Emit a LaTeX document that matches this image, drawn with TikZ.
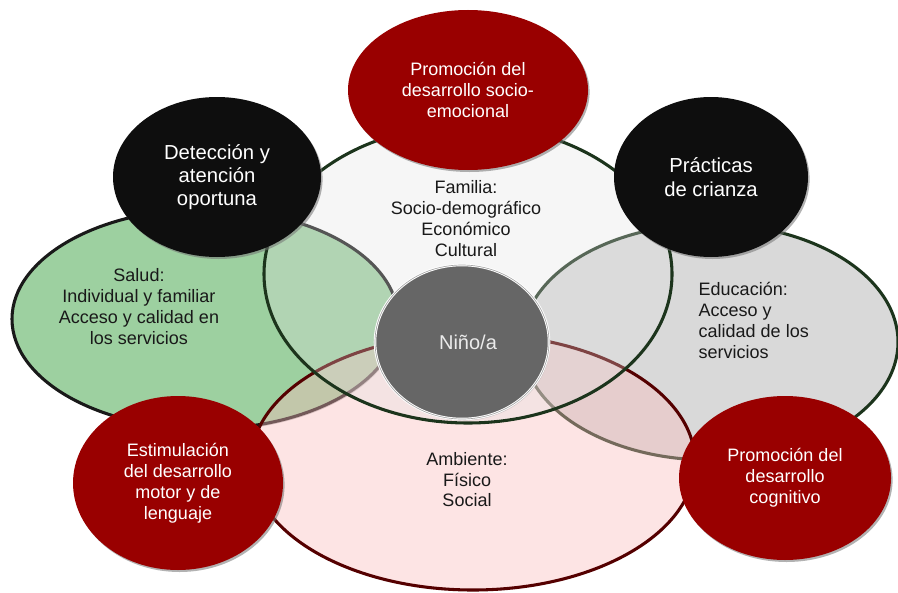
\documentclass[tikz,border=0pt]{standalone}
\usepackage{fontspec}
\setmainfont{Liberation Sans}
\usetikzlibrary{shapes.geometric,shadows}

\definecolor{saludfill}{RGB}{157,208,160}
\definecolor{familiafill}{RGB}{224,224,224}
\definecolor{educfill}{RGB}{217,217,217}
\definecolor{ambfill}{RGB}{250,187,187}
\definecolor{rimgreen}{RGB}{28,52,28}
\definecolor{rimred}{RGB}{85,0,0}
\definecolor{bubred}{RGB}{153,0,0}
\definecolor{bubblack}{RGB}{14,14,14}
\definecolor{ninofill}{RGB}{102,102,102}

\tikzset{
  area/.style={ellipse, inner sep=0pt, line width=2.3pt},
  bubble/.style={ellipse, inner sep=0pt, text=white, align=center,
    font=\fontsize{13.5}{15.75}\selectfont,
    drop shadow={shadow xshift=1.2pt, shadow yshift=-1.5pt, fill=black!55, opacity=.55}},
  redbubble/.style={bubble, fill=bubred},
  blackbubble/.style={bubble, fill=bubblack, font=\fontsize{15.2}{17.5}\selectfont},
  areatext/.style={align=center, text=black!90, font=\fontsize{13.5}{15.75}\selectfont}
}

\begin{document}
\begin{tikzpicture}[x=0.75pt, y=-0.75pt]
\useasboundingbox (0,0) rectangle (898,592);

% Outer areas
\node[area, fill=saludfill, draw=black!90,
  drop shadow={shadow xshift=1pt, shadow yshift=-1.5pt, fill=black!50, opacity=.5},
  minimum width=289.5pt, minimum height=165pt] (Salud) at (205,319) {};
\node[area, fill=educfill, draw=rimgreen,
  minimum width=282pt, minimum height=177pt] (Educacion) at (710,342) {};
\node[area, fill=ambfill, fill opacity=.4, draw=rimred,
  minimum width=333pt, minimum height=192pt] (Ambiente) at (473,462) {};
\node[area, fill=familiafill, fill opacity=.3, draw=rimgreen,
  minimum width=306pt, minimum height=223.5pt] (Familia) at (468,274) {};

% Area texts
\node[areatext] (Familia-txt) at (466,219)
  {Familia:\\Socio-demográfico\\Económico\\Cultural};
\node[areatext] (Salud-txt) at (139,307)
  {Salud:\\Individual y familiar\\Acceso y calidad en\\los servicios};
\node[areatext, align=left, anchor=west] (Educacion-txt) at (694,320)
  {Educación:\\ Acceso y\\ calidad de los\\ servicios};
\node[areatext, font=\fontsize{13.5}{15.4}\selectfont] (Ambiente-txt) at (467,480)
  {Ambiente:\\Físico\\Social};

% Center
\node[ellipse, inner sep=0pt, fill=ninofill, draw=white, line width=.7pt,
  double=gray!70, double distance=.5pt, text=white!92!black,
  font=\fontsize{15}{18}\selectfont,
  drop shadow={shadow xshift=.8pt, shadow yshift=-1.2pt, fill=black!40, opacity=.4},
  minimum width=130.5pt, minimum height=115.5pt] (Nino) at (462,342) {\hspace*{9pt}Niño/a};

% Bubbles
\node[redbubble, minimum width=180pt, minimum height=120pt] (Socioemocional) at (468,90)
  {Promoción del\\desarrollo socio-\\emocional};
\node[blackbubble, minimum width=156pt, minimum height=120pt] (Deteccion) at (217,177)
  {Detección y\\atención\\oportuna};
\node[blackbubble, minimum width=145.5pt, minimum height=120pt] (Practicas) at (711,177)
  {Prácticas\\de crianza};
\node[redbubble, minimum width=157.5pt, minimum height=130.5pt] (Estimulacion) at (178,483)
  {Estimulación\\del desarrollo\\motor y de\\lenguaje};
\node[redbubble, minimum width=159pt, minimum height=123pt] (Cognitivo) at (785,478)
  {Promoción del\\desarrollo\\cognitivo};

\end{tikzpicture}
\end{document}
